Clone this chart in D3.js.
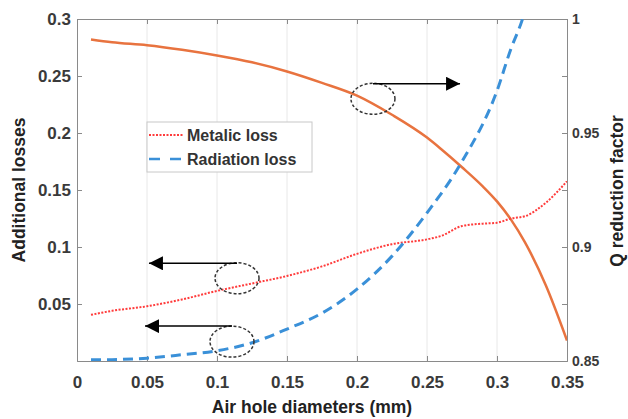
<!DOCTYPE html>
<html>
<head>
<meta charset="utf-8">
<script src="https://cdn.jsdelivr.net/npm/d3@7"></script>
<style>
	body { margin: 0; background: #fff; }
	svg { display: block; font-family: "Liberation Sans", Arial, sans-serif; }
	.axis text { font-weight: bold; fill: #3a3a3a; }
	.axis path, .axis line { stroke: #8a8a8a; }
	.title { font-weight: bold; fill: #222; }
</style>
</head>
<body>
<script>
// air hole diameter (mm)
const diameter = [0.01, 0.025, 0.05, 0.075, 0.1, 0.125, 0.15, 0.175, 0.2, 0.225, 0.25, 0.26, 0.275, 0.29, 0.3, 0.31, 0.32, 0.335, 0.35];
const metalicLoss = [0.0405, 0.044, 0.048, 0.054, 0.0615, 0.068, 0.0746, 0.083, 0.094, 0.1025, 0.1067, 0.1097, 0.1184, 0.1205, 0.1213, 0.125, 0.127, 0.139, 0.1577];
const qFactor = [0.991, 0.9898, 0.9885, 0.9865, 0.984, 0.981, 0.977, 0.972, 0.9664, 0.958, 0.948, 0.943, 0.935, 0.9265, 0.92, 0.912, 0.902, 0.883, 0.859];

const radiationDiameter = [0.01, 0.025, 0.05, 0.075, 0.1, 0.125, 0.15, 0.175, 0.2, 0.225, 0.25, 0.275, 0.3, 0.31, 0.3176, 0.322];
const radiationLoss = [0.001, 0.0012, 0.0025, 0.0055, 0.009, 0.016, 0.028, 0.042, 0.063, 0.092, 0.130, 0.175, 0.237, 0.274, 0.2977, 0.315];

const xTicks = [0, 0.05, 0.1, 0.15, 0.2, 0.25, 0.3, 0.35];
const yLeftTicks = [0.05, 0.1, 0.15, 0.2, 0.25, 0.3];
const yRightTicks = [0.85, 0.875, 0.9, 0.925, 0.95, 0.975, 1];
const yRightLabels = [0.85, 0.9, 0.95, 1];

const legendItems = ["Metalic loss", "Radiation loss"];

// dashed ellipse callouts with arrows: [center x, center y, arrow y, arrow tip x, axis]
const callouts = [
	[0.2114, 0.965, 0.9716, 0.2736, "right"],
	[0.1143, 0.0726, 0.0857, 0.0514, "left"],
	[0.1107, 0.017, 0.0306, 0.0486, "left"],
];

const width = 628, height = 419;
const margin = { top: 19, right: 61, bottom: 58, left: 77 };
const innerW = width - margin.left - margin.right;
const innerH = height - margin.top - margin.bottom;

const x = d3.scaleLinear().domain([0, 0.35]).range([0, innerW]);
const yLeft = d3.scaleLinear().domain([0, 0.3]).range([innerH, 0]);
const yRight = d3.scaleLinear().domain([0.85, 1]).range([innerH, 0]);

const svg = d3.select("body").append("svg")
	.attr("width", width)
	.attr("height", height);

svg.append("defs").append("clipPath")
	.attr("id", "plot-clip")
	.append("rect")
		.attr("width", innerW)
		.attr("height", innerH);

svg.select("defs").append("marker")
	.attr("id", "arrow")
	.attr("viewBox", "0 0 10 10")
	.attr("refX", 10)
	.attr("refY", 5)
	.attr("markerUnits", "userSpaceOnUse")
	.attr("markerWidth", 14)
	.attr("markerHeight", 14)
	.attr("orient", "auto")
	.append("path")
		.attr("d", "M0,0 L10,5 L0,10 Z")
		.attr("fill", "#000");

let g = svg.append("g")
	.attr("transform", `translate(${margin.left}, ${margin.top})`);

// vertical grid
g.append("g")
	.attr("class", "grid")
	.selectAll("line")
	.data(xTicks.slice(1, -1))
	.enter()
	.append("line")
		.attr("x1", d => x(d))
		.attr("x2", d => x(d))
		.attr("y1", 0)
		.attr("y2", innerH)
		.attr("stroke", "#e8e8e8");

// top border with ticks
g.append("g")
	.attr("class", "axis top")
	.call(d3.axisTop(x).tickValues(xTicks).tickSize(-5).tickFormat(""))
	.call(s => s.select(".domain").attr("stroke", "#cfcfcf"));

g.append("g")
	.attr("class", "axis x")
	.attr("transform", `translate(0, ${innerH})`)
	.call(d3.axisBottom(x).tickValues(xTicks).tickSize(-5).tickPadding(15).tickFormat(d => d3.format("")(d)))
	.selectAll("text")
		.attr("font-size", 17);

g.append("g")
	.attr("class", "axis y left")
	.call(d3.axisLeft(yLeft).tickValues(yLeftTicks).tickSize(-5).tickPadding(6).tickFormat(d => d3.format("")(d)))
	.selectAll("text")
		.attr("font-size", 17);

g.append("g")
	.attr("class", "axis y right")
	.attr("transform", `translate(${innerW}, 0)`)
	.call(d3.axisRight(yRight).tickValues(yRightTicks).tickSize(-5).tickPadding(5)
		.tickFormat(d => yRightLabels.includes(d) ? d3.format("")(d) : ""))
	.selectAll("text")
		.attr("font-size", 14);

let plot = g.append("g")
	.attr("clip-path", "url(#plot-clip)");

let lineLeft = d3.line()
	.x(d => x(d[0]))
	.y(d => yLeft(d[1]))
	.curve(d3.curveMonotoneX);
let lineRight = d3.line()
	.x(d => x(d[0]))
	.y(d => yRight(d[1]))
	.curve(d3.curveMonotoneX);

plot.append("path")
	.datum(d3.zip(diameter, qFactor))
	.attr("fill", "none")
	.attr("stroke", "#e8733f")
	.attr("stroke-width", 2.5)
	.attr("d", lineRight);

plot.append("path")
	.datum(d3.zip(diameter, metalicLoss))
	.attr("fill", "none")
	.attr("stroke", "#ff3b3b")
	.attr("stroke-width", 2)
	.attr("stroke-dasharray", "2,1.5")
	.attr("d", lineLeft);

plot.append("path")
	.datum(d3.zip(radiationDiameter, radiationLoss))
	.attr("fill", "none")
	.attr("stroke", "#3a90d8")
	.attr("stroke-width", 3)
	.attr("stroke-dasharray", "10,6")
	.attr("d", lineLeft);

// callouts
for (let [cx, cy, ay, tipX, axis] of callouts) {
	let y = axis == "right" ? yRight : yLeft;
	g.append("ellipse")
		.attr("cx", x(cx))
		.attr("cy", y(cy))
		.attr("rx", 22)
		.attr("ry", 15.5)
		.attr("fill", "none")
		.attr("stroke", "#333")
		.attr("stroke-width", 1.5)
		.attr("stroke-dasharray", "3,2");
	g.append("line")
		.attr("x1", x(cx))
		.attr("x2", x(tipX))
		.attr("y1", y(ay))
		.attr("y2", y(ay))
		.attr("stroke", "#000")
		.attr("stroke-width", 1.5)
		.attr("marker-end", "url(#arrow)");
}

// legend
let legend = g.append("g")
	.attr("class", "legend")
	.attr("transform", `translate(${x(0.05)}, 103)`);
legend.append("rect")
	.attr("width", 165)
	.attr("height", 50)
	.attr("fill", "#fff")
	.attr("stroke", "#c8c8c8");
let legendRows = legend.selectAll("g")
	.data(legendItems)
	.enter()
	.append("g")
		.attr("transform", (d, i) => `translate(0, ${13 + i * 24})`);
legendRows.append("line")
	.attr("x1", 2)
	.attr("x2", 36)
	.attr("stroke", (d, i) => i ? "#3a90d8" : "#ff3b3b")
	.attr("stroke-width", (d, i) => i ? 2.5 : 2)
	.attr("stroke-dasharray", (d, i) => i ? "11,10" : "2,1.5");
legendRows.append("text")
	.attr("x", 40)
	.attr("y", 6)
	.attr("font-size", 16)
	.attr("font-weight", "bold")
	.attr("fill", "#333")
	.text(d => d);

// axis titles
svg.append("text")
	.attr("class", "title")
	.attr("x", margin.left + innerW / 2 - 10)
	.attr("y", 413)
	.attr("text-anchor", "middle")
	.attr("font-size", 17.5)
	.text("Air hole diameters (mm)");

svg.append("text")
	.attr("class", "title")
	.attr("transform", "translate(25, 190) rotate(-90)")
	.attr("text-anchor", "middle")
	.attr("font-size", 17.5)
	.text("Additional losses");

svg.append("text")
	.attr("class", "title")
	.attr("transform", "translate(623, 191) rotate(-90)")
	.attr("text-anchor", "middle")
	.attr("font-size", 17.5)
	.text("Q reduction factor");
</script>
</body>
</html>
